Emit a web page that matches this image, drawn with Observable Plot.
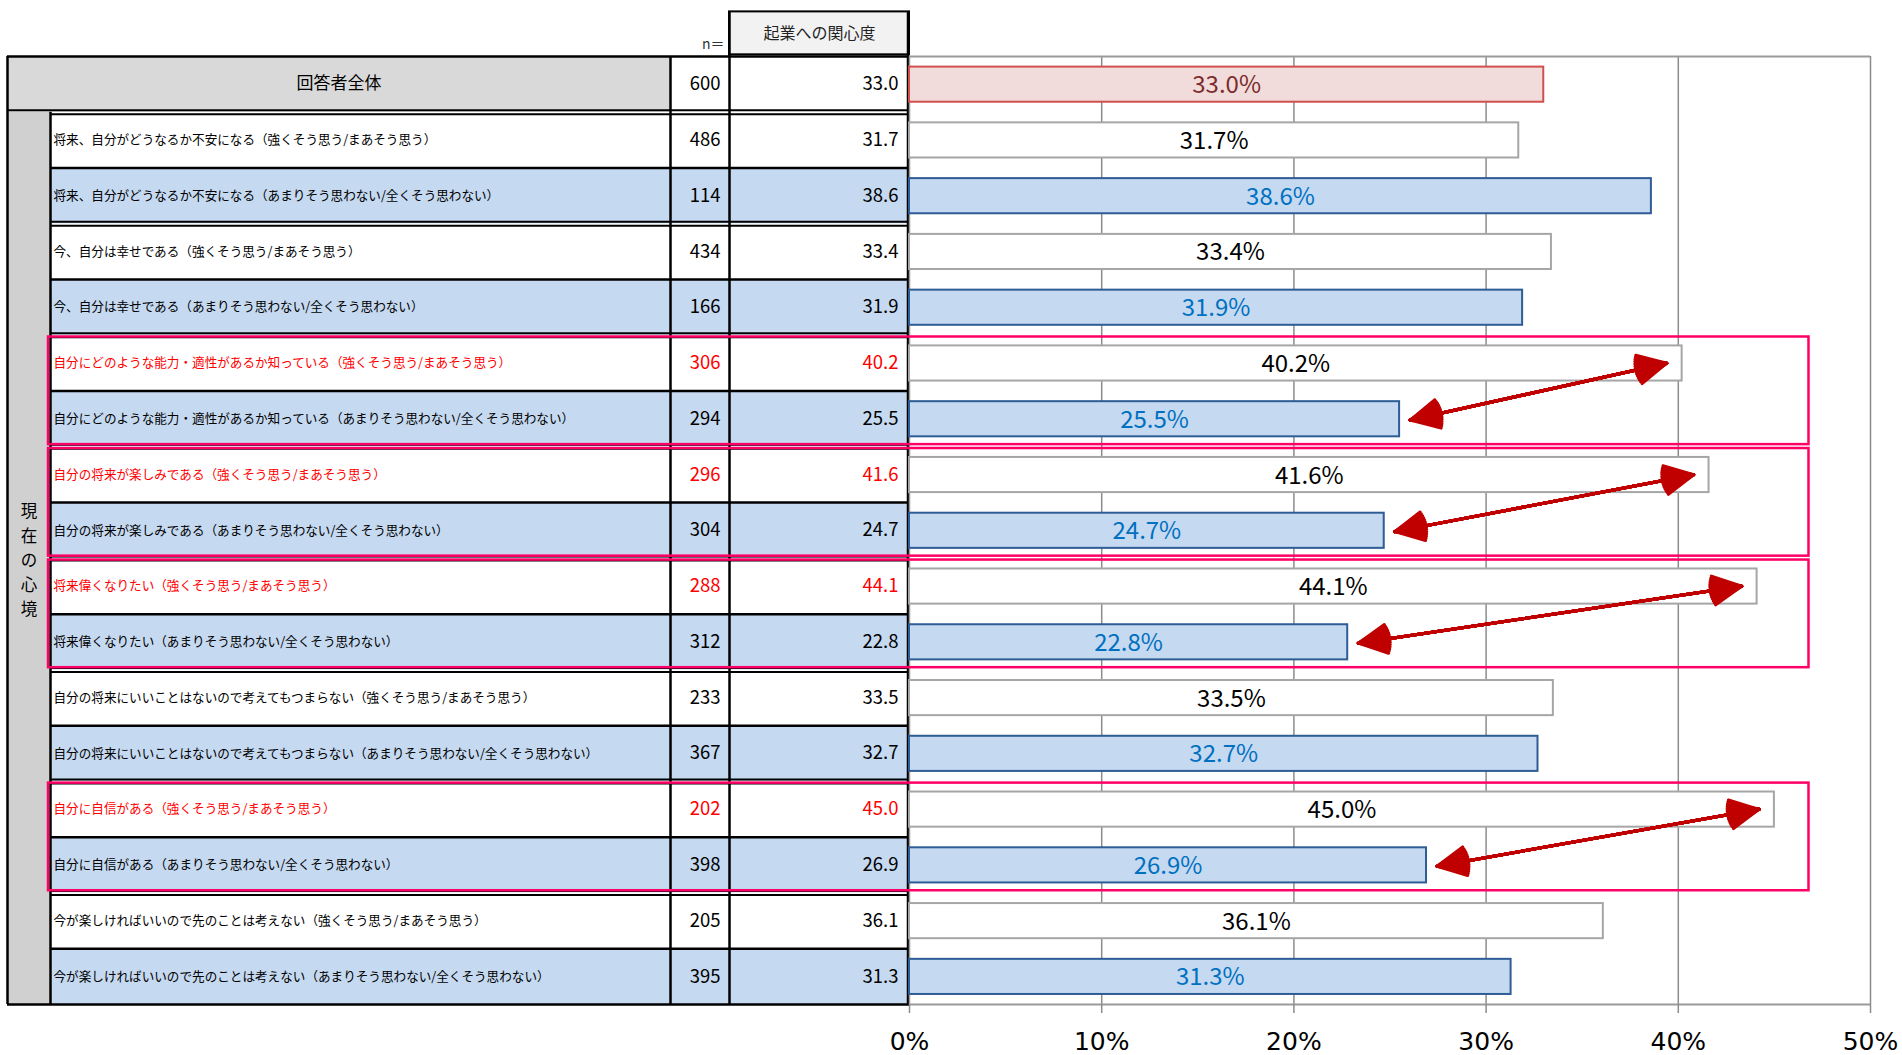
<!DOCTYPE html>
<html><head><meta charset="utf-8">
<script src="https://cdn.jsdelivr.net/npm/d3@7"></script>
<script src="https://cdn.jsdelivr.net/npm/@observablehq/plot@0.6"></script>
<style>
html,body{margin:0;padding:0;background:#fff;}
#chart{position:absolute;left:0;top:0;}
svg{overflow:visible;}
</style></head>
<body><div id="chart"></div>
<script>
// ---- data ----
const labels = [
  "将来、自分がどうなるか不安になる（強くそう思う/まあそう思う）",
  "将来、自分がどうなるか不安になる（あまりそう思わない/全くそう思わない）",
  "今、自分は幸せである（強くそう思う/まあそう思う）",
  "今、自分は幸せである（あまりそう思わない/全くそう思わない）",
  "自分にどのような能力・適性があるか知っている（強くそう思う/まあそう思う）",
  "自分にどのような能力・適性があるか知っている（あまりそう思わない/全くそう思わない）",
  "自分の将来が楽しみである（強くそう思う/まあそう思う）",
  "自分の将来が楽しみである（あまりそう思わない/全くそう思わない）",
  "将来偉くなりたい（強くそう思う/まあそう思う）",
  "将来偉くなりたい（あまりそう思わない/全くそう思わない）",
  "自分の将来にいいことはないので考えてもつまらない（強くそう思う/まあそう思う）",
  "自分の将来にいいことはないので考えてもつまらない（あまりそう思わない/全くそう思わない）",
  "自分に自信がある（強くそう思う/まあそう思う）",
  "自分に自信がある（あまりそう思わない/全くそう思わない）",
  "今が楽しければいいので先のことは考えない（強くそう思う/まあそう思う）",
  "今が楽しければいいので先のことは考えない（あまりそう思わない/全くそう思わない）"
];
const nCounts = [486,114,434,166,306,294,296,304,288,312,233,367,202,398,205,395];
const interest = [31.7,38.6,33.4,31.9,40.2,25.5,41.6,24.7,44.1,22.8,33.5,32.7,45.0,26.9,36.1,31.3];
const totalLabel = "回答者全体";
const totalN = 600;
const totalInterest = 33.0;
const highlightRows = [4, 6, 8, 12];   // red rows, each paired with the next row
const tickValues = [0, 10, 20, 30, 40, 50];
const headerTitle = "起業への関心度";
const nHeader = "n＝";
const sideTitle = "現在の心境";

// ---- layout ----
const W = 1902, H = 1055;
const plotLeft = 909, plotRight = 1870;
const xMax = 50;
const px2x = px => (px - plotLeft) / (plotRight - plotLeft) * xMax;
const colTable = 7, colLabel = 50, colN = 670, colVal = 729;
const jp = "'Noto Sans CJK JP', 'Noto Sans', sans-serif";

const rows = labels.map((label, k) => ({
  label, n: nCounts[k], v: interest[k], row: k + 1,
  kind: k % 2 === 0 ? "agree" : "disagree",
  red: highlightRows.includes(k)
}));
const totalRow = {label: totalLabel, n: totalN, v: totalInterest, row: 0, kind: "total", red: false};
const allRows = [totalRow, ...rows];

const barFill = {total: "#F2DCDB", agree: "#FFFFFF", disagree: "#C5D9F1"};
const barStroke = {total: "#D0504D", agree: "#A6A6A6", disagree: "#2E5C95"};
const barText = {total: "#7B2C2C", agree: "#000000", disagree: "#0070C0"};

// table lines
const hSingle = [{y: 0, a: colTable}, {y: 17, a: colTable}];
const hDouble = [{y: 1, a: colTable}];
for (let i = 2; i <= 16; i++) (i % 2 === 0 ? hSingle : hDouble).push({y: i, a: colLabel});
const vLines = [
  {x: colTable, y1: 0, y2: 17}, {x: colLabel, y1: 1, y2: 17},
  {x: colN, y1: 0, y2: 17}, {x: colVal, y1: -0.8, y2: 17}, {x: plotLeft - 1.5, y1: -0.8, y2: 17}
];

const pairs = highlightRows.map(k => ({hi: interest[k], lo: interest[k + 1], hiRow: k + 1, loRow: k + 2}));
const up = {
  x1: d => d.lo + 0.55, y1: d => d.loRow + 0.52,
  x2: d => d.hi - 0.8, y2: d => d.hiRow + 0.5
};
const down = {x1: up.x2, y1: up.y2, x2: up.x1, y2: up.y1};
// a fan of heads of equal length and shrinking angle fills each arrowhead
const headAngles = [54, 46, 38, 30, 22, 14, 6];
const arrowMarks = headAngles.flatMap(a => [
  Plot.arrow(pairs, {...up, stroke: "#C00000", strokeWidth: 3, headLength: 16, headAngle: a}),
  Plot.arrow(pairs, {...down, stroke: "#C00000", strokeWidth: 3, headLength: 16, headAngle: a})
]);

const chart = Plot.plot({
  width: W, height: H,
  marginLeft: plotLeft, marginRight: W - plotRight, marginTop: 56, marginBottom: H - 1004,
  x: {domain: [0, xMax], axis: null, label: null},
  y: {domain: [0, 17], reverse: true, axis: null, label: null},
  color: {type: "identity"},
  style: {fontFamily: jp, color: "#000", background: "#fff"},
  marks: [
    // ---------- table fills ----------
    Plot.rect([0], {x1: px2x(colVal), x2: px2x(plotLeft), y1: -0.8, y2: -0.03, fill: "#F2F2F2", stroke: "#000", strokeWidth: 2}),
    Plot.rect([totalRow], {x1: px2x(colTable), x2: px2x(colN), y1: 0, y2: 1, fill: "#D9D9D9"}),
    Plot.rect([0], {x1: px2x(colTable), x2: px2x(colLabel), y1: 1, y2: 17, fill: "#D0D0D0"}),
    Plot.rect(rows.filter(d => d.kind === "disagree"), {x1: px2x(colLabel), x2: px2x(plotLeft), y1: d => d.row, y2: d => d.row + 1, fill: "#C5D9F1"}),
    // ---------- table lines ----------
    Plot.ruleY(hSingle, {y: "y", x1: d => px2x(d.a), x2: px2x(plotLeft), stroke: "#000", strokeWidth: 2.5}),
    Plot.ruleY(hDouble, {y: "y", x1: d => px2x(d.a), x2: px2x(plotLeft), stroke: "#000", strokeWidth: 2, dy: -2}),
    Plot.ruleY(hDouble, {y: "y", x1: px2x(colLabel), x2: px2x(plotLeft), stroke: "#000", strokeWidth: 2, dy: 2}),
    Plot.ruleX(vLines, {x: d => px2x(d.x), y1: "y1", y2: "y2", stroke: "#000", strokeWidth: 2.5}),
    // ---------- table texts ----------
    Plot.text([headerTitle], {x: px2x((colVal + plotLeft) / 2), y: -0.4, text: d => d, fontSize: 16, fill: "#222"}),
    Plot.text([nHeader], {x: px2x(colVal - 5), y: -0.22, text: d => d, fontSize: 14, textAnchor: "end", fill: "#333"}),
    Plot.text([totalRow], {x: px2x((colTable + colN) / 2), y: 0.49, text: "label", fontSize: 17}),
    Plot.text([sideTitle.split("").join("\n")], {x: px2x((colTable + colLabel) / 2), y: 9, text: d => d, fontSize: 16.5, lineHeight: 1.48}),
    Plot.text(rows, {x: px2x(colLabel + 3), y: d => d.row + 0.5, text: "label", textAnchor: "start", fontSize: 12.6, fill: d => d.red ? "#FF0000" : "#000"}),
    Plot.text(allRows, {x: px2x(colVal - 9), y: d => d.row + 0.5, text: d => String(d.n), textAnchor: "end", fontSize: 18.5, fill: d => d.red ? "#FF0000" : "#000"}),
    Plot.text(allRows, {x: px2x(plotLeft - 11), y: d => d.row + 0.5, text: d => d.v.toFixed(1), textAnchor: "end", fontSize: 18.5, fill: d => d.red ? "#FF0000" : "#000"}),
    // ---------- chart frame and grid ----------
    Plot.ruleX(tickValues.slice(1), {x: d => d, y1: 0, y2: 17, stroke: "#8C8C8C", strokeWidth: 1.5}),
    Plot.ruleX([0], {x: d => d, y1: 0, y2: 17, stroke: "#9A9A9A", strokeWidth: 1.5}),
    Plot.ruleY([0, 17], {y: d => d, x1: 0, x2: xMax, stroke: "#9A9A9A", strokeWidth: 2}),
    Plot.axisX({ticks: tickValues, tickFormat: d => d + "%", label: null, tickSize: 9, tickPadding: 19, fontSize: 25, fontFamily: "'DejaVu Sans', sans-serif", stroke: "#8C8C8C", strokeWidth: 1.5}),
    // ---------- bars ----------
    Plot.rect(allRows, {x1: 0, x2: "v", y1: d => d.row + 0.19, y2: d => d.row + 0.82, fill: d => barFill[d.kind], stroke: d => barStroke[d.kind], strokeWidth: 2}),
    Plot.text(allRows, {x: d => d.v / 2, y: d => d.row + 0.52, text: d => d.v.toFixed(1) + "%", fontSize: 24, fill: d => barText[d.kind]}),
    // ---------- highlight boxes ----------
    Plot.rect(pairs, {x1: px2x(colLabel - 2), x2: 46.8, y1: d => d.hiRow + 0.03, y2: d => d.loRow + 0.96, fill: "none", stroke: "#FF0066", strokeWidth: 2.5}),
    // ---------- arrows ----------
    ...arrowMarks
  ]
});
document.getElementById("chart").appendChild(chart);
</script>
</body></html>
